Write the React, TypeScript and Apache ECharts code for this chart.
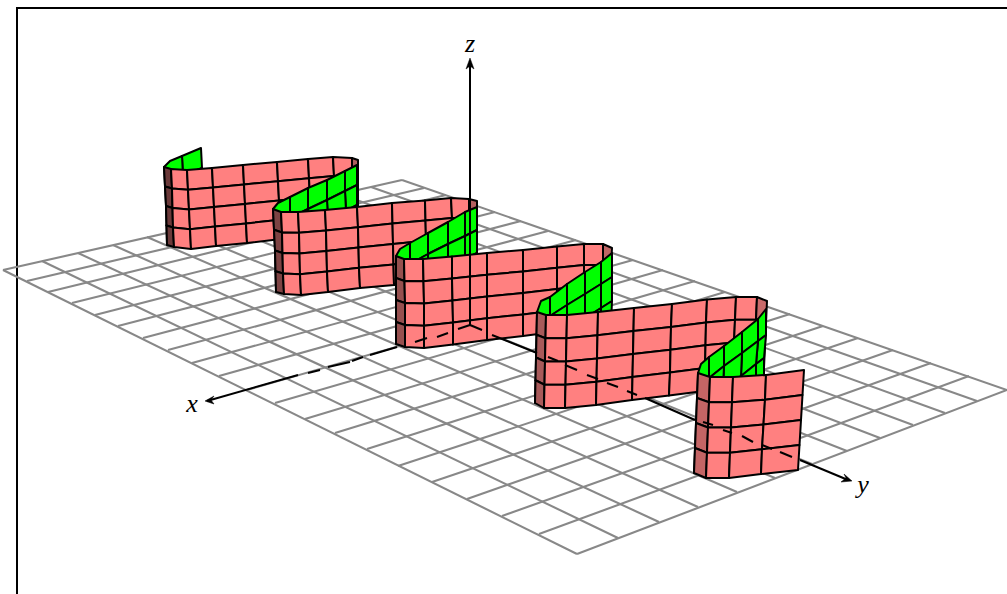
import React, { useEffect, useRef } from "react";
import * as echarts from "echarts";

type Pt = [number, number];

// Floor mesh: ends of the lines
const floorLeftTop: Pt[] = [[3,270],[42,261],[78,253],[113,245],[147,237],[181,230],[214,222],[246,215],[278,208],[309,201],[340,194],[371,187],[402,180]];
const floorBottomRight: Pt[] = [[577,554],[618,538],[659,522],[698,507],[737,492],[775,478],[812,464],[847,451],[880,438],[913,425],[945,413],[977,401],[1007,390]];
const floorLeftBottom: Pt[] = [[3,270],[27,281],[48,292],[72,303],[95,315],[118,326],[143,338],[168,350],[192,363],[219,376],[247,390],[275,403],[305,419],[335,433],[367,449],[398,466],[432,482],[467,499],[502,516],[539,534],[577,554]];
const floorTopRight: Pt[] = [[402,180],[424,188],[446,195],[470,204],[495,212],[521,221],[548,231],[576,240],[604,250],[633,260],[663,270],[695,281],[725,292],[757,303],[790,314],[823,326],[858,338],[893,350],[931,363],[969,376],[1007,390]];

// Surface columns: five [x, y] levels from top to bottom
const ribbon1 = [
  [164,167,165,186.5,166,206,166.5,225.5,167,245],
  [171,169,172,188.5,172.5,208,173,227.5,174,247],
  [187,170,188,189.75,189,209.5,190,229.25,191,249],
  [212,168,213,187.5,214,207,215,226.5,216,246],
  [243,165,244,184.5,245,204,246,223.5,247,243],
  [277,162,278,181.25,279,200.5,280,219.75,281,239],
  [308,159,309,178.25,310,197.5,311,216.75,312,236],
  [333,157,334,176,335,195,336,214,337,233],
  [352,158,352,177,352,196,353,215,353,234],
  [358,160,358,179,358,198,358,217,358,236],
];
const ribbon2 = [
  [273,209,274,229.75,275,250.5,275.5,271.25,276,292],
  [281,212,282,232.5,282.5,253,283,273.5,284,294],
  [298,212,299,232.75,299.5,253.5,300,274.25,301,295],
  [325,210,326,230.5,326.5,251,327,271.5,328,292],
  [357,207,358,227.25,358.5,247.5,359,267.75,360,288],
  [392,203,392.5,223.5,393,244,393.5,264.5,394,285],
  [425,200.5,425.5,220.6,426,240.75,426.5,260.9,427,281],
  [451,198,452,218,452,238,452.5,258,453,278],
  [469,199,469,219,469,239,469,259,470,279],
  [477,201,477,221,477,241,477,261,477,281],
];
const ribbon3 = [
  [396,256,396,278,396,300,396,322,396,344],
  [404,259,404.5,281,405,303,405,325,405,347],
  [423,259,423.5,281.25,424,303.5,424,325.75,424,348],
  [452,256.5,452,278.5,452.5,300.5,453,322.5,453,344.5],
  [487,253,487,274.75,487,296.5,487,318.25,487,340],
  [523,250,523,271.5,523,293,523,314.5,523,336],
  [557,246.5,557,267.75,557,289,557,310.25,557,331.5],
  [584,244,584,265,584,286,584,307,584,328],
  [603,244,603,265,603,286,602,307,602,328],
  [612,248,611,268,611,288,610,308,610,328],
];
const ribbon4 = [
  [537,312,536.5,334.75,536,357.5,535.5,380.25,535,403],
  [546,315,545.5,338.25,545,361.5,544.5,384.75,544,408],
  [567,315,566.5,338.25,566,361.5,565.5,384.75,565,408],
  [598,312,597.5,335.25,597,358.5,596.5,381.75,596,405],
  [634,308,633.5,331,633,354,632.5,377,632,400],
  [672,304,671,326.9,670.5,349.75,670,372.6,669,395.5],
  [707,299.5,706,322.4,705.5,345.25,705,368.1,704,391],
  [736,297,735,319.75,734,342.5,733,365.25,732,388],
  [757,297,756,319.75,755,342.5,754,365.25,753,388],
  [767,301,766,323.25,765,345.5,764,367.75,763,390],
];
const ribbon5 = [
  [698,373,697,398,696,423,695,448,694,473],
  [710,377,709,402.25,708,427.5,707,452.75,706,478],
  [733,377,732,402.25,731,427.5,730,452.75,729,478],
  [766,375,765,399.75,763.5,424.5,762,449.25,761,474],
  [804,370,802.5,395,801,420,799.5,445,798,470],
];
const green0 = [
  [201,148,202,168,202,188,203,208,203,228],
  [182,156,183,176,183,196,184,216,184,236],
];
const green1 = [
  [357,165,357,185,357,205,358,225,358,245],
  [345,171,345,191,346,211,346,231,347,251],
  [327,180,327,200,328,220,328,241,329,261],
  [308,188,308,209,309,230,309,251,310,272],
  [290,197,290,218,291,239,291,260,292,281],
];
const green2 = [
  [477,207,477,230,477,253,477,276,477,299],
  [465,212,465,236,465,259,465,282,465,305],
  [448,222,448,244,448,267,448,290,448,313],
  [428,233,428,254,428,277,428,300,428,323],
  [410,243,410,264,410,287,410,310,410,333],
];
const green3 = [
  [612,253,612,277,612,301,611,325,611,349],
  [601,262,601,284,601,308,600,332,600,356],
  [585,272,585,294,585,318,584,342,584,366],
  [567,284,567,305,567,329,566,353,566,377],
  [550,297,550,316,550,340,549,364,549,388],
];
const green4 = [
  [766,309,766,335,764,358,764,382,763,405],
  [758,319,758,341,756,364,756,388,755,411],
  [742,332,742,353,741,376,740,400,739,423],
  [724,346,724,366,723,389,722,413,721,436],
  [709,357,709,378,708,401,707,425,706,448],
];
const shoulders: Pt[] = [[170,161],[278,203],[400,249],[541,301],[701,364]];
const leftShades = ["#6b3a3a","#7d4343","#96504f","#a85a5a","#c46565"];
const rightShades = ["#ad5e5e","#b46060","#be6565","#c96b6b"];
const PINK = "#ff8080";
const GREEN = "#00ff00";

// Axes
const xAxisSegments: Pt[][] = [
  [[207,401],[298,375]],[[308,373],[320,370]],[[328,367],[350,362]],[[352,361],[363,357]],[[370,355],[397,347]],
  [[415,342],[427,338]],[[437,337],[448,333]],[[458,329],[470,325]],
];
const yAxisSegments: Pt[][] = [
  [[470,325],[482,330]],[[492,335],[537,353]],[[548,357],[558,361]],[[565,365],[577,370]],[[587,375],[598,379]],
  [[607,383],[618,387]],[[627,391],[637,395]],[[645,398],[695,420]],[[703,422],[713,425]],[[723,430],[732,433]],
  [[742,436],[753,442]],[[762,445],[772,449]],[[780,452],[792,457]],[[800,460],[848,480]],
];
const zAxisSegments: Pt[][] = [[[470,325],[470,64]]];
const arrowHeads: Pt[][] = [
  [[205,401],[214,396],[211,400],[214,404]],
  [[852,481],[844,474],[846,478],[841,482]],
  [[470,58],[466,69],[470,66],[474,69]],
];
const axisLabels = [
  { text: "x", at: [192,403] as Pt },
  { text: "y", at: [863,484] as Pt },
  { text: "z", at: [470,43] as Pt },
];
const frameLine: Pt[] = [[17,594],[17,8],[1007,8]];

type Cell = { points: Pt[]; fill: string };

function colPt(col: number[], level: number): Pt {
  return [col[level * 2], col[level * 2 + 1]];
}
function addStrip(cells: Cell[], cols: number[][], colorOf: (i: number) => string, shoulder?: Pt) {
  for (let i = 0; i < cols.length - 1; i++) {
    for (let r = 0; r < 4; r++) {
      const a = colPt(cols[i], r), b = colPt(cols[i + 1], r), c = colPt(cols[i + 1], r + 1), d = colPt(cols[i], r + 1);
      const useShoulder = shoulder && r === 0 && i === cols.length - 2;
      cells.push({ points: useShoulder ? [a, shoulder as Pt, b, c, d] : [a, b, c, d], fill: colorOf(i) });
    }
  }
}
function buildCells(): Cell[] {
  const cells: Cell[] = [];
  const ribbons = [ribbon1, ribbon2, ribbon3, ribbon4, ribbon5];
  const greens = [green0, green1, green2, green3, green4];
  ribbons.forEach((rib, k) => {
    addStrip(cells, [...greens[k], rib[0]], () => GREEN, shoulders[k]);
    addStrip(cells, rib, (i) => {
      if (i === 0) return leftShades[k];
      if (k < 4 && i === rib.length - 2) return rightShades[k];
      return PINK;
    });
  });
  return cells;
}

export default function App() {
  const ref = useRef<HTMLDivElement>(null);
  useEffect(() => {
    const chart = echarts.init(ref.current!, undefined, { renderer: "svg" });
    const cells = buildCells();
    const floorLines: Pt[][] = [
      ...floorLeftTop.map((p, i) => [p, floorBottomRight[i]] as Pt[]),
      ...floorLeftBottom.map((p, i) => [p, floorTopRight[i]] as Pt[]),
    ];
    const axisLines = [...xAxisSegments, ...yAxisSegments, ...zAxisSegments];
    const lineSeries = (name: string, lines: Pt[][], color: string, width: number, z: number) => ({
      type: "custom",
      name,
      coordinateSystem: "cartesian2d",
      silent: true,
      clip: false,
      z,
      data: lines.map((_, i) => [i]),
      renderItem: (params: any, api: any) => ({
        type: "polyline",
        shape: { points: lines[params.dataIndex].map((p) => api.coord(p)) },
        style: { stroke: color, lineWidth: width, fill: "none", lineCap: "butt", lineJoin: "miter" },
      }),
    });
    chart.setOption({
      animation: false,
      backgroundColor: "#ffffff",
      grid: { left: 0, right: 0, top: 0, bottom: 0 },
      xAxis: { type: "value", min: 0, max: 1007, show: false },
      yAxis: { type: "value", min: 0, max: 594, inverse: true, show: false },
      series: [
        lineSeries("frame", [frameLine], "#000000", 2, 1),
        lineSeries("floor", floorLines, "#888888", 2.1, 2),
        {
          type: "custom",
          name: "surface",
          coordinateSystem: "cartesian2d",
          silent: true,
          clip: false,
          z: 3,
          data: cells.map((_, i) => [i]),
          renderItem: (params: any, api: any) => {
            const cell = cells[params.dataIndex];
            return {
              type: "polygon",
              shape: { points: cell.points.map((p) => api.coord(p)) },
              style: { fill: cell.fill, stroke: "#000000", lineWidth: 2, lineJoin: "round" },
            };
          },
        },
        lineSeries("axes", axisLines, "#000000", 2, 4),
        {
          type: "custom",
          name: "arrows",
          coordinateSystem: "cartesian2d",
          silent: true,
          clip: false,
          z: 5,
          data: arrowHeads.map((_, i) => [i]),
          renderItem: (params: any, api: any) => ({
            type: "polygon",
            shape: { points: arrowHeads[params.dataIndex].map((p) => api.coord(p)) },
            style: { fill: "#000000", stroke: "#000000", lineWidth: 0.5 },
          }),
        },
        {
          type: "custom",
          name: "labels",
          coordinateSystem: "cartesian2d",
          silent: true,
          clip: false,
          z: 6,
          data: axisLabels.map((_, i) => [i]),
          renderItem: (params: any, api: any) => {
            const l = axisLabels[params.dataIndex];
            const [x, y] = api.coord(l.at);
            return {
              type: "text",
              style: {
                text: l.text,
                x,
                y,
                fill: "#000000",
                font: 'italic 26px "Liberation Serif"',
                align: "center",
                verticalAlign: "middle",
              },
            };
          },
        },
      ],
    });
    return () => chart.dispose();
  }, []);
  return <div ref={ref} style={{ position: "absolute", left: 0, top: 0, width: 1007, height: 594 }} />;
}
